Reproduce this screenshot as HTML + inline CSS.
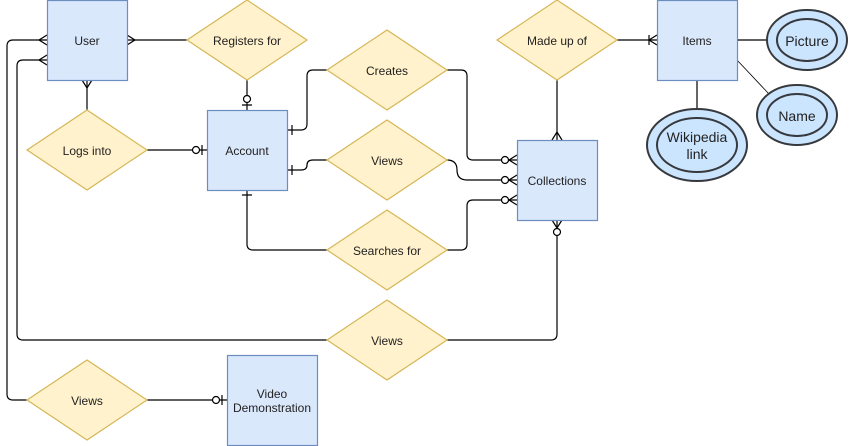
<!DOCTYPE html>
<html><head><style>
body{margin:0;background:#fff;}
svg{display:block;font-family:"Liberation Sans",Arial,sans-serif;font-size:12px;}
</style></head><body>
<svg width="849" height="446" viewBox="0 0 849 446" xmlns="http://www.w3.org/2000/svg">
<g fill="none" stroke="#000" stroke-width="1.2">
<path d="M47 40 H13 Q7 40 7 46 V394 Q7 400 13 400 H27"/>
<path d="M47 60 H23 Q17 60 17 66 V334 Q17 340 23 340 H327"/>
<path d="M447 340 H551 Q557 340 557 334 V220"/>
<path d="M127 40 H187"/>
<path d="M247 80 V110"/>
<path d="M87 80 V110"/>
<path d="M147 150 H207"/>
<path d="M287 130 H301 Q307 130 307 124 V76 Q307 70 313 70 H327"/>
<path d="M447 70 H461 Q467 70 467 76 V154 Q467 160 473 160 H517"/>
<path d="M287 170 H301 Q307 170 307 165 Q307 160 313 160 H327"/>
<path d="M447 160 Q457 160 457 170 Q457 180 467 180 H517"/>
<path d="M247 190 V244 Q247 250 253 250 H327"/>
<path d="M447 250 H461 Q467 250 467 244 V206 Q467 200 473 200 H517"/>
<path d="M557 80 V140"/>
<path d="M617 40 H657"/>
<path d="M737 40 H767"/>
<path d="M737 60 L769 94" stroke-width="0.8"/>
<path d="M697 80 V110"/>
<path d="M147 400 H227"/>
<path d="M47 35 L39 40 L47 45 M47 55 L39 60 L47 65 M127 35 L135 40 L127 45 M82 80 L87 88 L92 80"/>
<path d="M242 105 H252 M202 145 V155 M292 125 V135 M292 165 V175 M242 195 H252"/>
<path d="M517 155 L509 160 L517 165 M517 175 L509 180 L517 185 M517 195 L509 200 L517 205 M552 140 L557 132 L562 140 M552 220 L557 228 L562 220"/>
<path d="M657 35 L649 40 L657 45 M649 35 V45"/>
<path d="M222 395 V405"/>
</g>
<g fill="#fff" stroke="#000" stroke-width="1.2">
<circle cx="247" cy="99" r="3.5"/>
<circle cx="196" cy="150" r="3.5"/>
<circle cx="505" cy="160" r="3.5"/>
<circle cx="505" cy="180" r="3.5"/>
<circle cx="505" cy="200" r="3.5"/>
<circle cx="557" cy="232" r="3.5"/>
<circle cx="216" cy="400" r="3.5"/>
</g>
<g fill="#dae8fc" stroke="#6c8ebf" stroke-width="1.2">
<rect x="47.5" y="0.5" width="80" height="80"/>
<rect x="207.5" y="110.5" width="80" height="80"/>
<rect x="517.5" y="140.5" width="80" height="80"/>
<rect x="657.5" y="0.5" width="80" height="80"/>
<rect x="227.5" y="355.5" width="90" height="90"/>
</g>
<g fill="#fff2cc" stroke="#d6b656" stroke-width="1.2">
<path d="M187 40 L247 0 L307 40 L247 80 Z"/>
<path d="M27 150 L87 110 L147 150 L87 190 Z"/>
<path d="M327 70 L387 30 L447 70 L387 110 Z"/>
<path d="M327 160 L387 120 L447 160 L387 200 Z"/>
<path d="M327 250 L387 210 L447 250 L387 290 Z"/>
<path d="M497 40 L557 0 L617 40 L557 80 Z"/>
<path d="M327 340 L387 300 L447 340 L387 380 Z"/>
<path d="M27 400 L87 360 L147 400 L87 440 Z"/>
</g>
<g fill="#cce5ff" stroke="#36393d" stroke-width="2">
<ellipse cx="807" cy="40" rx="40" ry="30"/>
<ellipse cx="807" cy="40" rx="30" ry="21"/>
<ellipse cx="797" cy="115" rx="40" ry="30"/>
<ellipse cx="797" cy="115" rx="30" ry="21"/>
<ellipse cx="697" cy="145" rx="50" ry="36"/>
<ellipse cx="697" cy="145" rx="40" ry="27"/>
</g>
<g fill="#222" text-anchor="middle">
<text x="87" y="45">User</text>
<text x="247" y="45">Registers for</text>
<text x="87" y="155">Logs into</text>
<text x="247" y="155">Account</text>
<text x="387" y="75">Creates</text>
<text x="387" y="165">Views</text>
<text x="387" y="255">Searches for</text>
<text x="557" y="185">Collections</text>
<text x="557" y="45">Made up of</text>
<text x="697" y="45">Items</text>
<text x="387" y="345">Views</text>
<text x="87" y="405">Views</text>
<text x="272" y="398">Video</text>
<text x="272" y="412">Demonstration</text>
<text x="807" y="46" font-size="14">Picture</text>
<text x="797" y="121" font-size="14">Name</text>
<text x="697" y="142" font-size="14">Wikipedia</text>
<text x="697" y="159" font-size="14">link</text>
</g>
</svg>
</body></html>
